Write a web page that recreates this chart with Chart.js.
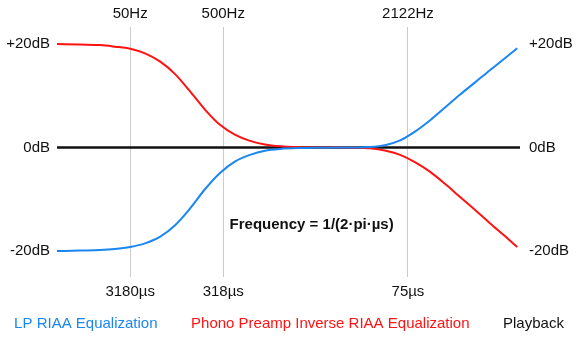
<!DOCTYPE html>
<html>
<head>
<meta charset="utf-8">
<script src="https://cdn.jsdelivr.net/npm/chart.js@4.4.1/dist/chart.umd.min.js"></script>
<style>
  html, body { margin: 0; padding: 0; background: #fff; }
  #wrap { width: 578px; height: 339px; }
</style>
</head>
<body>
<div id="wrap"><canvas id="mycanvas"></canvas></div>
<script>
// positions along the (unitless) horizontal axis, 0..100
var xPos = [0, 5.0, 9.3, 12.5, 15.8, 19.0, 22.3, 25.5, 28.7, 32.0, 35.2, 38.4, 41.7, 44.9, 48.2, 52.5, 56.8, 61.1, 64.4, 67.6, 70.8, 74.1, 77.3, 80.6, 83.8, 87.0, 90.3, 93.5, 96.8, 99.4];
var lpRiaa = [-20, -19.9, -19.8, -19.6, -19.2, -18.5, -17.2, -15.0, -11.8, -8.0, -4.9, -2.7, -1.4, -0.6, -0.25, -0.08, -0.02, 0, 0.03, 0.1, 0.45, 1.4, 3.1, 5.3, 7.75, 10.2, 12.6, 14.95, 17.3, 19.2];
var inverseRiaa = [20, 19.9, 19.8, 19.5, 19.1, 18.2, 16.6, 14.2, 10.9, 7.3, 4.4, 2.5, 1.3, 0.6, 0.25, 0.08, 0.02, 0, -0.03, -0.15, -0.55, -1.4, -2.8, -4.7, -7.0, -9.5, -12.05, -14.6, -17.15, -19.2];
var playbackX = [0, 100];
var playback = [0, 0];

var markerPos = [15.8, 35.9, 75.8];
var freqLabels = ['50Hz', '500Hz', '2122Hz'];
var timeLabels = ['3180µs', '318µs', '75µs'];
var dbTicks = [-20, 0, 20];
var note = 'Frequency = 1/(2·pi·µs)';

var blue = '#1a86f2';
var red = '#ff1212';
var black = '#111111';

function pts(xs, ys) {
	var out = [];
	for (var i in xs) {
		out.push({x: xs[i], y: ys[i]});
	}
	return out;
}

function dbLabel(v) {
	return (v > 0 ? '+' : '') + v + 'dB';
}

var FONT = '"Liberation Sans", Arial, sans-serif';
Chart.defaults.font.family = FONT;
Chart.defaults.font.size = 15;
Chart.defaults.color = '#111';

// formula note and the coloured series names under the chart
var textPlugin = {
	id: 'texts',
	afterDraw: function(chart) {
		var ctx = chart.ctx;
		ctx.save();
		ctx.textBaseline = 'middle';

		ctx.font = 'bold 15px ' + FONT;
		ctx.fillStyle = '#111';
		ctx.textAlign = 'center';
		ctx.fillText(note, chart.scales.x.getPixelForValue(55), chart.scales.y.getPixelForValue(-15));

		ctx.font = '15px ' + FONT;
		ctx.textAlign = 'left';
		var sets = chart.data.datasets;
		var gap = 33.5;
		var total = gap * (sets.length - 1);
		sets.forEach(function(d) { total += ctx.measureText(d.label).width; });
		var x = (chart.width - total) / 2;
		sets.forEach(function(d) {
			ctx.fillStyle = d.borderColor;
			ctx.fillText(d.label, x, 324);
			x += ctx.measureText(d.label).width + gap;
		});
		ctx.restore();
	}
};

var chartdata = {
	datasets: [
		{
			label: 'LP RIAA Equalization',
			borderColor: blue,
			backgroundColor: blue,
			borderWidth: 2,
			data: pts(xPos, lpRiaa)
		},
		{
			label: 'Phono Preamp Inverse RIAA Equalization',
			borderColor: red,
			backgroundColor: red,
			borderWidth: 2,
			data: pts(xPos, inverseRiaa)
		},
		{
			label: 'Playback',
			borderColor: black,
			backgroundColor: black,
			borderWidth: 2.5,
			data: pts(playbackX, playback)
		}
	]
};

var ctx = document.getElementById('mycanvas');

var lineGraph = new Chart(ctx, {
	type: 'line',
	data: chartdata,
	plugins: [textPlugin],
	options: {
		responsive: true,
		maintainAspectRatio: false,
		animation: false,
		layout: { padding: 0 },
		elements: {
			point: { radius: 0 },
			line: { cubicInterpolationMode: 'monotone' }
		},
		plugins: {
			tooltip: { enabled: false },
			legend: { display: false }
		},
		scales: {
			x: {
				type: 'linear',
				position: 'bottom',
				min: 0,
				max: 100,
				afterFit: function(s) { s.height = 62; },
				afterBuildTicks: function(s) { s.ticks = markerPos.map(function(v) { return {value: v}; }); },
				ticks: {
					autoSkip: false,
					maxRotation: 0,
					padding: 6,
					callback: function(v, i) { return timeLabels[i]; }
				},
				grid: { color: '#cccccc', lineWidth: 1, drawTicks: false },
				border: { display: false }
			},
			x2: {
				type: 'linear',
				position: 'top',
				min: 0,
				max: 100,
				afterFit: function(s) { s.height = 27; },
				afterBuildTicks: function(s) { s.ticks = markerPos.map(function(v) { return {value: v}; }); },
				ticks: {
					autoSkip: false,
					maxRotation: 0,
					padding: 4,
					callback: function(v, i) { return freqLabels[i]; }
				},
				grid: { display: false, drawTicks: false },
				border: { display: false }
			},
			y: {
				position: 'left',
				min: -25,
				max: 23.3,
				afterFit: function(s) { s.width = 57; },
				afterBuildTicks: function(s) { s.ticks = dbTicks.map(function(v) { return {value: v}; }); },
				ticks: { padding: 7, callback: dbLabel },
				grid: { display: false, drawTicks: false },
				border: { display: false }
			},
			y2: {
				position: 'right',
				min: -25,
				max: 23.3,
				afterFit: function(s) { s.width = 58; },
				afterBuildTicks: function(s) { s.ticks = dbTicks.map(function(v) { return {value: v}; }); },
				ticks: { padding: 9, callback: dbLabel },
				grid: { display: false, drawTicks: false },
				border: { display: false }
			}
		}
	}
});
</script>
</body>
</html>
